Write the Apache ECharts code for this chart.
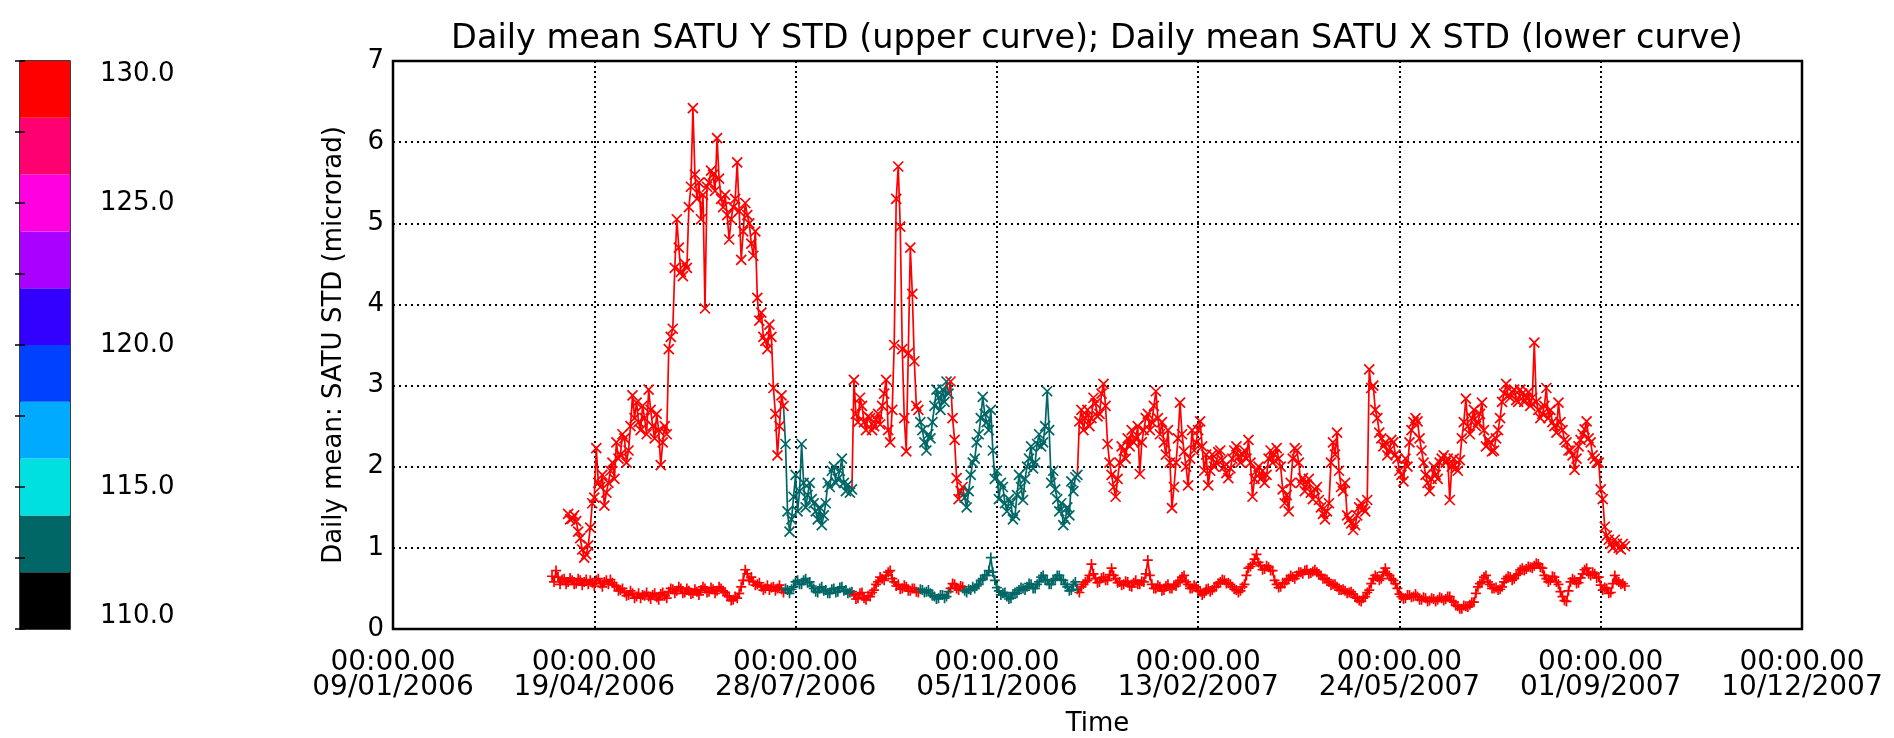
<!DOCTYPE html>
<html>
<head>
<meta charset="utf-8">
<script src="https://cdn.jsdelivr.net/npm/echarts/dist/echarts.min.js"></script>
<style>
  html, body { margin: 0; padding: 0; background: #ffffff; }
  #chart { width: 1894px; height: 738px; }
</style>
</head>
<body>
<div id="chart"></div>
<script>
// ---- time axis: days counted from the first tick ----
const axisStartDate = '2006-01-09';
const axisSpanDays = 700;
const tickStepDays = 100;
const tickTime = '00:00.00';
const tickDates = ['09/01/2006', '19/04/2006', '28/07/2006', '05/11/2006',
                   '13/02/2007', '24/05/2007', '01/09/2007', '10/12/2007'];

// ---- daily means, one value per day ----
const sampleStepDays = 1;

// Daily mean SATU Y STD (upper curve), microrad
const yStdStart = '2006-04-06';
const yStd = [
  1.42, 1.35, 1.36, 1.40, 1.33, 1.20, 1.12, 0.98, 0.88, 0.92,
  1.03, 1.25, 1.55, 1.62, 2.23, 1.80, 1.75, 1.90, 1.52, 1.68,
  1.80, 1.95, 2.05, 1.85, 2.30, 2.10, 2.15, 2.40, 2.35, 2.05,
  2.20, 2.50, 2.88, 2.60, 2.79, 2.55, 2.45, 2.75, 2.60, 2.40,
  2.95, 2.70, 2.50, 2.35, 2.65, 2.45, 2.02, 2.30, 2.50, 2.40,
  3.45, 3.60, 3.70, 4.45, 5.05, 4.70, 4.40, 4.35, 4.50, 4.45,
  5.20, 5.45, 6.42, 5.60, 5.30, 5.50, 5.05, 5.35, 3.95, 5.45,
  5.50, 5.65, 5.60, 5.40, 6.05, 5.55, 5.30, 5.20, 5.35, 5.10,
  4.80, 5.05, 5.20, 5.30, 5.75, 5.15, 4.55, 4.90, 5.25, 5.10,
  5.00, 4.75, 4.60, 4.90, 4.08, 3.80, 3.90, 3.60, 3.55, 3.45,
  3.75, 3.60, 2.97, 2.65, 2.14, 2.50, 2.88, 2.75, 2.28, 1.45,
  1.20, 1.35, 1.63, 1.90, 1.45, 1.70, 2.28, 1.80, 1.50, 1.65,
  1.80, 1.60, 1.55, 1.45, 1.35, 1.50, 1.28, 1.40, 1.55, 1.80,
  1.75, 1.95, 2.00, 1.80, 1.85, 1.95, 2.10, 1.80, 1.70, 1.78,
  1.68, 1.72, 3.07, 2.65, 2.55, 2.85, 2.75, 2.55, 2.45, 2.62,
  2.60, 2.45, 2.50, 2.58, 2.65, 2.52, 2.75, 2.90, 3.07, 2.45,
  2.30, 2.70, 3.50, 5.30, 5.70, 4.96, 3.45, 2.60, 2.19, 3.40,
  4.70, 4.13, 3.30, 2.75, 2.70, 2.55, 2.45, 2.30, 2.20, 2.40,
  2.35, 2.55, 2.75, 2.95, 2.85, 2.70, 2.95, 2.80, 3.05, 2.90,
  3.05, 2.60, 2.33, 1.86, 1.60, 1.70, 1.75, 1.62, 1.50, 1.70,
  1.90, 2.05, 2.10, 2.30, 2.40, 2.60, 2.86, 2.65, 2.55, 2.45,
  2.70, 2.20, 1.85, 1.95, 1.60, 1.80, 1.75, 1.55, 1.45, 1.60,
  1.55, 1.35, 1.40, 1.65, 1.90, 1.75, 1.59, 1.85, 2.00, 2.10,
  2.25, 1.98, 2.05, 2.28, 2.40, 2.25, 2.30, 2.50, 2.93, 2.45,
  1.80, 1.95, 1.72, 1.60, 1.45, 1.55, 1.28, 1.35, 1.50, 1.40,
  1.82, 1.70, 1.87, 1.90, 2.56, 2.70, 2.45, 2.60, 2.70, 2.50,
  2.60, 2.85, 2.78, 2.62, 2.65, 2.90, 3.02, 2.75, 2.28, 2.05,
  1.90, 1.75, 1.63, 1.85, 2.05, 2.25, 2.20, 2.10, 2.35, 2.25,
  2.45, 2.30, 2.35, 2.50, 1.91, 2.30, 2.45, 2.60, 2.65, 2.45,
  2.55, 2.75, 2.93, 2.60, 2.40, 2.55, 2.30, 2.15, 2.45, 2.05,
  1.49, 1.75, 2.05, 2.35, 2.79, 2.40, 2.19, 2.00, 1.77, 2.10,
  2.45, 2.20, 2.30, 2.45, 2.56, 2.25, 1.95, 2.15, 1.77, 1.95,
  2.15, 2.00, 2.05, 2.18, 2.20, 2.08, 2.00, 1.92, 1.86, 1.98,
  2.10, 2.20, 2.25, 2.12, 2.05, 2.15, 2.20, 2.10, 2.33, 2.05,
  1.63, 1.85, 1.95, 2.00, 1.85, 1.95, 1.80, 1.90, 2.10, 2.20,
  2.05, 2.15, 2.23, 2.10, 2.00, 1.72, 1.55, 1.65, 1.45, 1.80,
  2.10, 2.23, 2.20, 2.05, 1.80, 1.86, 1.70, 1.78, 1.85, 1.68,
  1.60, 1.72, 1.75, 1.59, 1.50, 1.42, 1.35, 1.45, 1.55, 2.05,
  2.30, 2.15, 2.42, 1.95, 1.75, 1.70, 1.80, 1.40, 1.35, 1.30,
  1.22, 1.28, 1.40, 1.50, 1.55, 1.48, 1.45, 1.59, 3.20, 2.97,
  3.00, 2.70, 2.60, 2.42, 2.35, 2.25, 2.30, 2.14, 2.20, 2.33,
  2.30, 2.15, 2.10, 1.95, 1.90, 1.82, 2.10, 2.00, 2.30, 2.45,
  2.55, 2.60, 2.56, 2.35, 2.20, 2.05, 1.90, 1.80, 1.70, 1.85,
  2.00, 1.90, 1.85, 2.05, 2.10, 2.14, 2.05, 2.10, 1.59, 2.00,
  2.10, 1.98, 1.95, 2.08, 2.35, 2.55, 2.84, 2.50, 2.40, 2.60,
  2.70, 2.50, 2.55, 2.65, 2.79, 2.45, 2.25, 2.33, 2.30, 2.19,
  2.20, 2.35, 2.45, 2.60, 2.80, 2.90, 3.02, 2.88, 2.85, 2.92,
  2.95, 2.82, 2.80, 2.95, 2.90, 2.80, 2.85, 2.92, 2.75, 2.85,
  3.53, 2.80, 2.70, 2.60, 2.65, 2.75, 2.97, 2.60, 2.70, 2.55,
  2.50, 2.42, 2.79, 2.55, 2.45, 2.33, 2.30, 2.20, 2.20, 2.14,
  1.96, 2.10, 2.25, 2.33, 2.40, 2.46, 2.56, 2.35, 2.30, 2.14,
  2.10, 2.05, 2.05, 1.72, 1.60, 1.26, 1.15, 1.10, 1.05, 1.00,
  1.10, 1.05, 1.00, 0.98, 1.05, 1.02
];

// Daily mean SATU X STD (lower curve), microrad
const xStdStart = '2006-03-29';
const xStd = [
  0.65, 0.58, 0.72, 0.64, 0.55, 0.61, 0.62, 0.55, 0.58, 0.63,
  0.60, 0.55, 0.56, 0.62, 0.60, 0.54, 0.58, 0.61, 0.55, 0.60,
  0.57, 0.53, 0.60, 0.62, 0.56, 0.52, 0.58, 0.60, 0.55, 0.61,
  0.57, 0.54, 0.52, 0.47, 0.48, 0.50, 0.45, 0.41, 0.42, 0.47,
  0.44, 0.38, 0.40, 0.44, 0.38, 0.42, 0.41, 0.45, 0.40, 0.37,
  0.42, 0.44, 0.39, 0.36, 0.43, 0.45, 0.41, 0.38, 0.46, 0.50,
  0.49, 0.44, 0.47, 0.52, 0.50, 0.44, 0.45, 0.50, 0.47, 0.43,
  0.44, 0.49, 0.46, 0.42, 0.48, 0.52, 0.50, 0.45, 0.46, 0.51,
  0.49, 0.44, 0.47, 0.52, 0.50, 0.47, 0.45, 0.41, 0.40, 0.35,
  0.36, 0.40, 0.38, 0.44, 0.52, 0.60, 0.73, 0.68, 0.60, 0.64,
  0.58, 0.54, 0.55, 0.57, 0.52, 0.48, 0.50, 0.54, 0.48, 0.51,
  0.52, 0.47, 0.50, 0.54, 0.49, 0.45, 0.50, 0.48, 0.44, 0.49,
  0.52, 0.58, 0.60, 0.55, 0.55, 0.60, 0.62, 0.57, 0.58, 0.53,
  0.50, 0.46, 0.45, 0.50, 0.52, 0.47, 0.48, 0.44, 0.44, 0.49,
  0.50, 0.45, 0.46, 0.51, 0.52, 0.47, 0.48, 0.44, 0.45, 0.46,
  0.42, 0.37, 0.38, 0.44, 0.45, 0.38, 0.36, 0.41, 0.40, 0.45,
  0.48, 0.55, 0.58, 0.64, 0.62, 0.60, 0.66, 0.70, 0.72, 0.62,
  0.58, 0.53, 0.55, 0.49, 0.50, 0.54, 0.52, 0.47, 0.47, 0.50,
  0.50, 0.46, 0.45, 0.49, 0.48, 0.45, 0.46, 0.48, 0.44, 0.41,
  0.40, 0.37, 0.38, 0.42, 0.42, 0.38, 0.40, 0.46, 0.50, 0.56,
  0.55, 0.50, 0.48, 0.53, 0.52, 0.47, 0.45, 0.49, 0.48, 0.52,
  0.50, 0.53, 0.55, 0.60, 0.62, 0.66, 0.66, 0.72, 0.88, 0.70,
  0.60, 0.51, 0.47, 0.42, 0.44, 0.45, 0.40, 0.37, 0.38, 0.43,
  0.45, 0.44, 0.48, 0.51, 0.50, 0.48, 0.52, 0.56, 0.55, 0.50,
  0.50, 0.55, 0.58, 0.64, 0.66, 0.61, 0.60, 0.55, 0.55, 0.60,
  0.62, 0.66, 0.66, 0.61, 0.60, 0.55, 0.52, 0.47, 0.48, 0.55,
  0.58, 0.49, 0.45, 0.52, 0.55, 0.58, 0.60, 0.66, 0.80, 0.68,
  0.62, 0.57, 0.58, 0.63, 0.64, 0.60, 0.60, 0.67, 0.75, 0.66,
  0.62, 0.57, 0.58, 0.54, 0.55, 0.59, 0.58, 0.53, 0.52, 0.57,
  0.60, 0.55, 0.55, 0.59, 0.58, 0.68, 0.85, 0.66, 0.55, 0.50,
  0.50, 0.54, 0.52, 0.47, 0.48, 0.53, 0.55, 0.50, 0.50, 0.54,
  0.53, 0.57, 0.60, 0.64, 0.66, 0.58, 0.55, 0.50, 0.50, 0.54,
  0.52, 0.47, 0.46, 0.42, 0.44, 0.49, 0.50, 0.46, 0.48, 0.52,
  0.52, 0.56, 0.58, 0.61, 0.60, 0.56, 0.57, 0.55, 0.52, 0.49,
  0.48, 0.45, 0.47, 0.52, 0.55, 0.66, 0.75, 0.77, 0.80, 0.86,
  0.92, 0.82, 0.78, 0.73, 0.74, 0.78, 0.76, 0.72, 0.72, 0.60,
  0.55, 0.51, 0.52, 0.57, 0.56, 0.60, 0.62, 0.66, 0.64, 0.62,
  0.66, 0.70, 0.70, 0.68, 0.72, 0.73, 0.68, 0.69, 0.71, 0.73,
  0.70, 0.67, 0.66, 0.62, 0.62, 0.61, 0.58, 0.54, 0.55, 0.55,
  0.52, 0.48, 0.48, 0.49, 0.47, 0.44, 0.45, 0.46, 0.43, 0.39,
  0.38, 0.35, 0.34, 0.38, 0.40, 0.45, 0.48, 0.56, 0.62, 0.66,
  0.64, 0.60, 0.62, 0.70, 0.75, 0.68, 0.66, 0.62, 0.60, 0.56,
  0.50, 0.43, 0.40, 0.37, 0.38, 0.42, 0.42, 0.39, 0.40, 0.43,
  0.40, 0.36, 0.36, 0.39, 0.38, 0.34, 0.35, 0.38, 0.37, 0.34,
  0.36, 0.39, 0.38, 0.35, 0.37, 0.40, 0.40, 0.35, 0.33, 0.29,
  0.28, 0.25, 0.25, 0.29, 0.28, 0.27, 0.30, 0.33, 0.33, 0.44,
  0.52, 0.56, 0.58, 0.64, 0.66, 0.58, 0.55, 0.50, 0.50, 0.51,
  0.48, 0.49, 0.52, 0.58, 0.62, 0.65, 0.64, 0.60, 0.62, 0.66,
  0.68, 0.73, 0.75, 0.72, 0.74, 0.77, 0.76, 0.75, 0.78, 0.81,
  0.80, 0.76, 0.75, 0.66, 0.62, 0.58, 0.60, 0.65, 0.64, 0.58,
  0.55, 0.46, 0.40, 0.35, 0.34, 0.47, 0.58, 0.62, 0.60, 0.56,
  0.57, 0.63, 0.68, 0.73, 0.75, 0.68, 0.66, 0.70, 0.68, 0.63,
  0.64, 0.54, 0.48, 0.51, 0.50, 0.44, 0.45, 0.56, 0.66, 0.60,
  0.58, 0.55, 0.56, 0.53
];

// Colour-coded quantity per day: [first day, last day, value on the colour scale]
const colourRuns = [
  ['2006-03-29', '2006-07-22', 129],
  ['2006-07-23', '2006-08-25', 113],
  ['2006-08-26', '2006-09-27', 129],
  ['2006-09-28', '2006-10-12', 113],
  ['2006-10-13', '2006-10-19', 129],
  ['2006-10-20', '2006-12-15', 113],
  ['2006-12-16', '2007-09-15', 129]
];

// Colour scale: band edges and band colours
const colourLevels = [110, 112, 114, 116, 118, 120, 122, 124, 126, 128, 130];
const colourBands = ['#000000', '#006666', '#00e0e0', '#00aaff', '#0040ff',
                     '#3300ff', '#aa00ff', '#ff00e0', '#ff0070', '#ff0000'];

const FONT = "'DejaVu Sans', 'Liberation Sans', sans-serif";
const GRID = { left: 393, right: 92, top: 61, bottom: 109 };

function dayOf(iso) {
  const p = iso.split('-').map(Number);
  const a = axisStartDate.split('-').map(Number);
  return Math.round((Date.UTC(p[0], p[1] - 1, p[2]) - Date.UTC(a[0], a[1] - 1, a[2])) / 864e5);
}

function colourValueAt(day) {
  for (const r of colourRuns) {
    if (day >= dayOf(r[0]) && day <= dayOf(r[1])) return r[2];
  }
  return colourRuns[colourRuns.length - 1][2];
}

function bandColour(v) {
  for (let i = 0; i < colourBands.length; i++) {
    if (v >= colourLevels[i] && v < colourLevels[i + 1]) return colourBands[i];
  }
  return colourBands[colourBands.length - 1];
}

// Split one curve into runs of equal colour; each run starts from the
// previous run's last sample so the polyline stays continuous.
function curveSeries(startIso, values, symbolPath, z) {
  const start = dayOf(startIso);
  const pts = values.map((v, i) => {
    const day = start + i * sampleStepDays;
    return { day: day, v: v, c: bandColour(colourValueAt(day)) };
  });
  const groups = [];
  pts.forEach(p => {
    const g = groups[groups.length - 1];
    if (g && g.colour === p.c) g.pts.push(p);
    else groups.push({ colour: p.c, pts: [p] });
  });
  return groups.map((g, k) => {
    const data = [];
    if (k > 0) {
      const prev = groups[k - 1].pts;
      const last = prev[prev.length - 1];
      data.push({ value: [last.day, last.v], symbol: 'none' });
    }
    g.pts.forEach(p => data.push({ value: [p.day, p.v] }));
    return {
      type: 'line',
      xAxisIndex: 0,
      yAxisIndex: 0,
      data: data,
      symbol: symbolPath,
      symbolSize: 10,
      showSymbol: true,
      showAllSymbol: true,
      lineStyle: { color: g.colour, width: 1.7 },
      itemStyle: { color: g.colour, borderColor: g.colour, borderWidth: 1.7 },
      emphasis: { disabled: true },
      silent: true,
      animation: false,
      z: z
    };
  });
}

const CROSS_X = 'path://M0,0L10,10M0,10L10,0';
const CROSS_PLUS = 'path://M5,0L5,10M0,5L10,5';

const series = []
  .concat(curveSeries(xStdStart, xStd, CROSS_PLUS, 3))
  .concat(curveSeries(yStdStart, yStd, CROSS_X, 4));

// Colour bar drawn as stacked rectangles on its own axis
series.push({
  type: 'custom',
  xAxisIndex: 1,
  yAxisIndex: 1,
  silent: true,
  animation: false,
  z: 2,
  data: colourBands.map((c, i) => [colourLevels[i], colourLevels[i + 1]]),
  renderItem: function (params, api) {
    const top = api.coord([0, api.value(1)]);
    const bottom = api.coord([1, api.value(0)]);
    return {
      type: 'rect',
      shape: { x: top[0], y: top[1], width: bottom[0] - top[0], height: bottom[1] - top[1] },
      style: { fill: colourBands[params.dataIndex] }
    };
  }
});

const dottedH = { color: '#000', width: 2, type: [2, 4] };
const dottedV = { color: '#000', width: 2, type: [2, 3] };

const chart = echarts.init(document.getElementById('chart'), null, { renderer: 'canvas' });
chart.setOption({
  backgroundColor: '#ffffff',
  animation: false,
  textStyle: { fontFamily: FONT, color: '#000' },
  graphic: [{
    type: 'text',
    x: 1097,
    y: 39,
    silent: true,
    style: {
      text: 'Daily mean SATU Y STD (upper curve); Daily mean SATU X STD (lower curve)',
      fill: '#000',
      font: '33.5px ' + FONT,
      align: 'center',
      verticalAlign: 'middle'
    }
  }],
  grid: [
    Object.assign({ show: true, borderColor: '#000', borderWidth: 2.5, backgroundColor: 'transparent',
                    outerBoundsMode: 'none', containLabel: false }, GRID),
    { left: 20, width: 50, top: 61, bottom: 109, show: true, borderColor: '#000', borderWidth: 1.5,
      outerBoundsMode: 'none', containLabel: false }
  ],
  xAxis: [{
    type: 'value',
    gridIndex: 0,
    min: 0,
    max: axisSpanDays,
    interval: tickStepDays,
    name: 'Time',
    nameLocation: 'middle',
    nameGap: 82,
    nameTextStyle: { fontFamily: FONT, fontSize: 26, color: '#000' },
    axisLine: { show: false },
    axisTick: { show: false },
    splitLine: { show: true, lineStyle: dottedV },
    axisLabel: {
      show: true,
      margin: 21,
      fontFamily: FONT,
      fontSize: 28,
      lineHeight: 25,
      color: '#000',
      showMinLabel: true,
      showMaxLabel: true,
      hideOverlap: false,
      formatter: v => tickTime + '\n' + tickDates[Math.round(v / tickStepDays)]
    }
  }, {
    type: 'value',
    gridIndex: 1,
    min: 0,
    max: 1,
    show: false
  }],
  yAxis: [{
    type: 'value',
    gridIndex: 0,
    min: 0,
    max: 7,
    interval: 1,
    name: 'Daily mean: SATU STD (microrad)',
    nameLocation: 'middle',
    nameGap: 46,
    nameTextStyle: { fontFamily: FONT, fontSize: 26, color: '#000' },
    axisLine: { show: false },
    axisTick: { show: false },
    splitLine: { show: true, lineStyle: dottedH },
    axisLabel: { margin: 9, fontFamily: FONT, fontSize: 26, color: '#000',
                 showMinLabel: true, showMaxLabel: true }
  }, {
    type: 'value',
    gridIndex: 1,
    position: 'right',
    min: colourLevels[0],
    max: colourLevels[colourLevels.length - 1],
    interval: 2.5,
    z: 5,
    axisLine: { show: false },
    axisTick: { show: true, inside: true, length: 5, lineStyle: { color: '#000', width: 1.5 } },
    splitLine: { show: false },
    axisLabel: {
      margin: 30,
      fontFamily: FONT,
      fontSize: 26,
      color: '#000',
      showMinLabel: true,
      showMaxLabel: true,
      verticalAlignMinLabel: 'bottom',
      verticalAlignMaxLabel: 'top',
      formatter: v => (v % 5 === 0 ? v.toFixed(1) : '')
    }
  }, {
    type: 'value',
    gridIndex: 1,
    position: 'left',
    min: colourLevels[0],
    max: colourLevels[colourLevels.length - 1],
    interval: 2.5,
    z: 5,
    axisLine: { show: false },
    axisTick: { show: true, inside: true, length: 5, lineStyle: { color: '#000', width: 1.5 } },
    splitLine: { show: false },
    axisLabel: { show: false }
  }],
  series: series
});
</script>
</body>
</html>
